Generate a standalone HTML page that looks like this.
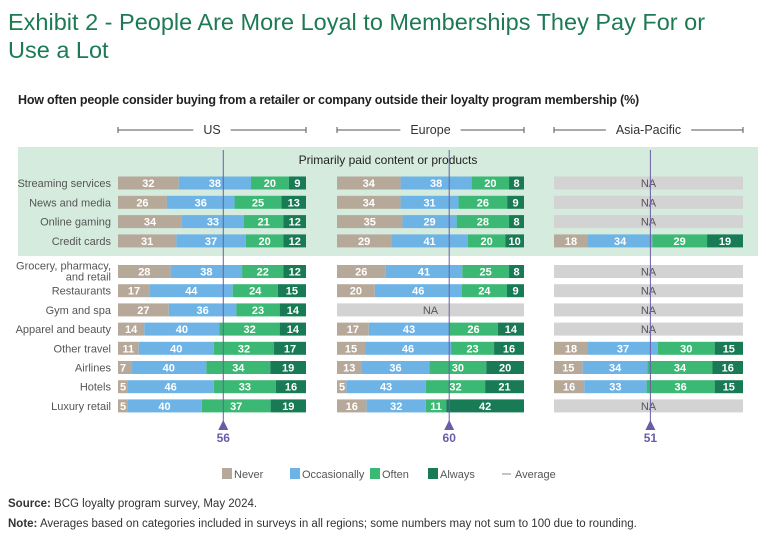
<!DOCTYPE html>
<html><head><meta charset="utf-8"><style>
body{margin:0;background:#fff;width:768px;height:541px;overflow:hidden;font-family:"Liberation Sans",sans-serif}
#title{position:absolute;left:8px;top:8px;font-size:23.5px;line-height:28px;color:#1e7a55;width:740px}
#sub{position:absolute;left:18px;top:93px;font-size:12.5px;font-weight:bold;color:#222;letter-spacing:-0.2px}
.foot{position:absolute;left:8px;font-size:11.5px;color:#333;font-family:"Liberation Sans",sans-serif}
</style></head><body>
<div id="title">Exhibit 2 - People Are More Loyal to Memberships They Pay For or Use a Lot</div>
<div id="sub">How often people consider buying from a retailer or company outside their loyalty program membership (%)</div>
<svg id="chart" width="768" height="541" style="position:absolute;left:0;top:0"></svg>
<div class="foot" style="top:498px"><b>Source:</b> BCG loyalty program survey, May 2024.</div>
<div class="foot" style="top:518px"><b>Note:</b> Averages based on categories included in surveys in all regions; some numbers may not sum to 100 due to rounding.</div>
<script>
const categories=["Streaming services","News and media","Online gaming","Credit cards","Grocery, pharmacy,|and retail","Restaurants","Gym and spa","Apparel and beauty","Other travel","Airlines","Hotels","Luxury retail"];
const regions=["US","Europe","Asia-Pacific"];
const seriesNames=["Never","Occasionally","Often","Always"];
const usValues=[[32,38,20,9],[26,36,25,13],[34,33,21,12],[31,37,20,12],[28,38,22,12],[17,44,24,15],[27,36,23,14],[14,40,32,14],[11,40,32,17],[7,40,34,19],[5,46,33,16],[5,40,37,19]];
const euValues=[[34,38,20,8],[34,31,26,9],[35,29,28,8],[29,41,20,10],[26,41,25,8],[20,46,24,9],null,[17,43,26,14],[15,46,23,16],[13,36,30,20],[5,43,32,21],[16,32,11,42]];
const apValues=[null,null,null,[18,34,29,19],null,null,null,null,[18,37,30,15],[15,34,34,16],[16,33,36,15],null];
const averages=[56,60,51];
const colors=["#b7a999","#6db3e6","#3bb873","#197a56"];
const svg=document.getElementById('chart');const NS="http://www.w3.org/2000/svg";
function mk(t,a,p){const e=document.createElementNS(NS,t);for(const k in a)e.setAttribute(k,a[k]);(p||svg).appendChild(e);return e;}
const panelX=[118,337,554],panelW=[188,187,189];
function xs(p,v){return panelX[p]+v/100*panelW[p];}
function rowY(i){return i<4?183+i*19.3:271.5+(i-4)*19.2;}
const bg=mk('rect',{x:18,y:147,width:740,height:109,fill:'#d5ebde'});

const bt=mk('text',{x:388,y:164,'font-size':12,fill:'#222','text-anchor':'middle'});bt.textContent="Primarily paid content or products";

const data=[usValues,euValues,apValues];
regions.forEach((r,p)=>{
 const x0=panelX[p],x1=x0+panelW[p],cx=(x0+x1)/2;
 const g=mk('g',{});
 const t=mk('text',{x:cx,y:134,'font-size':12.5,fill:'#333','text-anchor':'middle'},g);t.textContent=r;
 const hw=t.getComputedTextLength()/2+10;
 mk('line',{x1:x0,y1:130,x2:cx-hw,y2:130,stroke:'#555','stroke-width':1},g);
 mk('line',{x1:cx+hw,y1:130,x2:x1,y2:130,stroke:'#555','stroke-width':1},g);
 mk('line',{x1:x0,y1:127,x2:x0,y2:133,stroke:'#555'},g);mk('line',{x1:x1,y1:127,x2:x1,y2:133,stroke:'#555'},g);
});
categories.forEach((c,i)=>{
 const y=rowY(i);const parts=c.split('|');
 const t=mk('text',{x:111,y:parts.length>1?y-2:y+4,'font-size':11,fill:'#555','text-anchor':'end'});
 
 parts.forEach((s,k)=>{const ts=mk('tspan',{x:111,dy:k?11:0},t);ts.textContent=s;});
 data.forEach((arr,p)=>{
  const v=arr[i];
  if(!v){const r=mk('rect',{x:panelX[p],y:y-6.5,width:panelW[p],height:13,fill:'#d3d3d3'});
   
   const t2=mk('text',{x:panelX[p]+panelW[p]/2,y:y+4,'font-size':11,fill:'#555','text-anchor':'middle'});t2.textContent="NA";return;}
  const sum=v.reduce((a,b)=>a+b,0);let acc=0;
  v.forEach((val,s)=>{
   const xa=xs(p,acc/sum*100),xb=xs(p,(acc+val)/sum*100);acc+=val;
   const r=mk('rect',{x:xa,y:y-6.5,width:xb-xa,height:13,fill:colors[s]});
   
   const t2=mk('text',{x:val<8?xa+2:(xb+xa)/2,y:y+4,'font-size':11,'font-weight':'bold',fill:'#fff','text-anchor':val<8?'start':'middle'});t2.textContent=val;
  });
 });
});
averages.forEach((a,p)=>{
 const x=xs(p,a);
 const l=mk('line',{x1:x,y1:150,x2:x,y2:422,stroke:'#6a5ca8','stroke-width':1});
 
 mk('polygon',{points:`${x-5},${430} ${x+5},${430} ${x},${420}`,fill:'#6a5ca8'});
 const t=mk('text',{x:x,y:442,'font-size':12,'font-weight':'bold',fill:'#6a5ca8','text-anchor':'middle'});t.textContent=a;
 
});
const lx=[222,290,370,428];
seriesNames.forEach((n,s)=>{
 const g=mk('g',{});
 mk('rect',{x:lx[s],y:468,width:10,height:11,fill:colors[s]},g);
 const t=mk('text',{x:lx[s]+12,y:478,'font-size':11,fill:'#555'},g);t.textContent=n;
});
const ga=mk('g',{});
mk('line',{x1:502,y1:474,x2:511,y2:474,stroke:'#888'},ga);
const ta=mk('text',{x:515,y:478,'font-size':11,fill:'#555'},ga);ta.textContent="Average";
</script>
</body></html>
